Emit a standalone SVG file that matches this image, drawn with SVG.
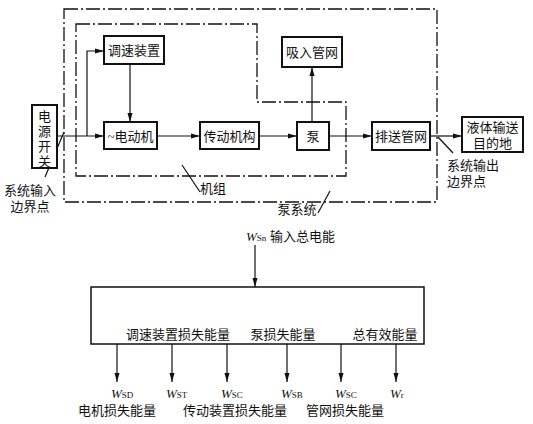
<svg xmlns="http://www.w3.org/2000/svg" width="533" height="424" viewBox="0 0 533 424">
<defs>
<marker id="arr" markerWidth="10" markerHeight="6" refX="9" refY="3" orient="auto" markerUnits="userSpaceOnUse">
<path d="M0,0.5 L9,3 L0,5.5 Z" fill="#111"/>
</marker>
<style>
.box{fill:#fff;stroke:#111;stroke-width:2}
.ln{fill:none;stroke:#111;stroke-width:1.2}
.dd{fill:none;stroke:#111;stroke-width:1.3;stroke-dasharray:14 3 2 3}
.t{font-family:"Liberation Serif","Noto Sans CJK SC",serif;font-size:13px;fill:#111}
.w{font-family:"Liberation Serif",serif;font-style:italic;font-size:13px;fill:#111}
.s{font-family:"Liberation Serif",serif;font-size:9px;font-style:normal}
</style>
</defs>
<rect width="533" height="424" fill="#fff"/>
<g id="frames">
<rect class="dd" x="64" y="9" width="373" height="193"/>
<path class="dd" d="M76,24 H257 V102 H346 V176 H76 Z"/>
</g>
<g id="connectors">
<path class="ln" d="M57,136 H104" marker-end="url(#arr)"/>
<path class="ln" d="M87,136 V51 H104" marker-end="url(#arr)"/>
<path class="ln" d="M130,64 V122" marker-end="url(#arr)"/>
<path class="ln" d="M157,136 H200" marker-end="url(#arr)"/>
<path class="ln" d="M259,136 H297" marker-end="url(#arr)"/>
<path class="ln" d="M312,122 V67" marker-end="url(#arr)"/>
<path class="ln" d="M329,136 H372" marker-end="url(#arr)"/>
<path class="ln" d="M430,136 H462" marker-end="url(#arr)"/>
<path class="ln" d="M45,177 L64,132"/>
<path class="ln" d="M182,165 L200,192"/>
<path class="ln" d="M318,213 L330,191"/>
<path class="ln" d="M453,153 L438,137"/>
<path class="ln" d="M255,245 V287" marker-end="url(#arr)"/>
<path class="ln" d="M117,344 V382" marker-end="url(#arr)"/>
<path class="ln" d="M172,344 V382" marker-end="url(#arr)"/>
<path class="ln" d="M227,344 V382" marker-end="url(#arr)"/>
<path class="ln" d="M287,344 V382" marker-end="url(#arr)"/>
<path class="ln" d="M341,344 V382" marker-end="url(#arr)"/>
<path class="ln" d="M396,344 V382" marker-end="url(#arr)"/>
</g>
<g id="power-switch">
<rect class="box" x="32" y="105" width="25" height="63"/>
<text class="t" x="44.5" y="121" text-anchor="middle">电</text>
<text class="t" x="44.5" y="136" text-anchor="middle">源</text>
<text class="t" x="44.5" y="151" text-anchor="middle">开</text>
<text class="t" x="44.5" y="166" text-anchor="middle">关</text>
</g>
<g id="speed-regulator">
<rect class="box" x="104" y="36" width="60" height="28"/>
<text class="t" x="134" y="55" text-anchor="middle">调速装置</text>
</g>
<g id="motor">
<rect class="box" x="104" y="122" width="53" height="27"/>
<text class="t" x="130.5" y="141" text-anchor="middle">~电动机</text>
</g>
<g id="transmission">
<rect class="box" x="200" y="122" width="59" height="27"/>
<text class="t" x="229.5" y="141" text-anchor="middle">传动机构</text>
</g>
<g id="pump">
<rect class="box" x="297" y="122" width="32" height="28"/>
<text class="t" x="313" y="141" text-anchor="middle">泵</text>
</g>
<g id="suction">
<rect class="box" x="282" y="37" width="60" height="30"/>
<text class="t" x="312" y="57" text-anchor="middle">吸入管网</text>
</g>
<g id="discharge">
<rect class="box" x="372" y="122" width="58" height="28"/>
<text class="t" x="401" y="141" text-anchor="middle">排送管网</text>
</g>
<g id="destination">
<rect class="box" x="462" y="117" width="61" height="35"/>
<text class="t" x="492.5" y="132" text-anchor="middle">液体输送</text>
<text class="t" x="492.5" y="148" text-anchor="middle">目的地</text>
</g>
<g id="labels">
<text class="t" x="30" y="195" text-anchor="middle">系统输入</text>
<text class="t" x="30" y="211" text-anchor="middle">边界点</text>
<text class="t" x="213" y="193" text-anchor="middle">机组</text>
<text class="t" x="297" y="214" text-anchor="middle">泵系统</text>
<text class="t" x="447" y="170">系统输出</text>
<text class="t" x="447" y="186">边界点</text>
</g>
<g id="energy-box">
<text class="w" x="246" y="241">W<tspan class="s">Sn</tspan></text>
<text class="t" x="270" y="241">输入总电能</text>
<rect class="box" x="91" y="287" width="333" height="57" style="stroke-width:1.5"/>
<text class="t" x="178" y="339" text-anchor="middle">调速装置损失能量</text>
<text class="t" x="283" y="339" text-anchor="middle">泵损失能量</text>
<text class="t" x="385" y="339" text-anchor="middle">总有效能量</text>
</g>
<g id="outputs">
<text class="w" x="111" y="398">W<tspan class="s">SD</tspan></text>
<text class="w" x="166" y="398">W<tspan class="s">ST</tspan></text>
<text class="w" x="221" y="398">W<tspan class="s">SC</tspan></text>
<text class="w" x="281" y="398">W<tspan class="s">SB</tspan></text>
<text class="w" x="335" y="398">W<tspan class="s">SC</tspan></text>
<text class="w" x="390" y="398">W<tspan class="s">r</tspan></text>
<text class="t" x="117" y="415" text-anchor="middle">电机损失能量</text>
<text class="t" x="235" y="415" text-anchor="middle">传动装置损失能量</text>
<text class="t" x="345" y="415" text-anchor="middle">管网损失能量</text>
</g>
</svg>
